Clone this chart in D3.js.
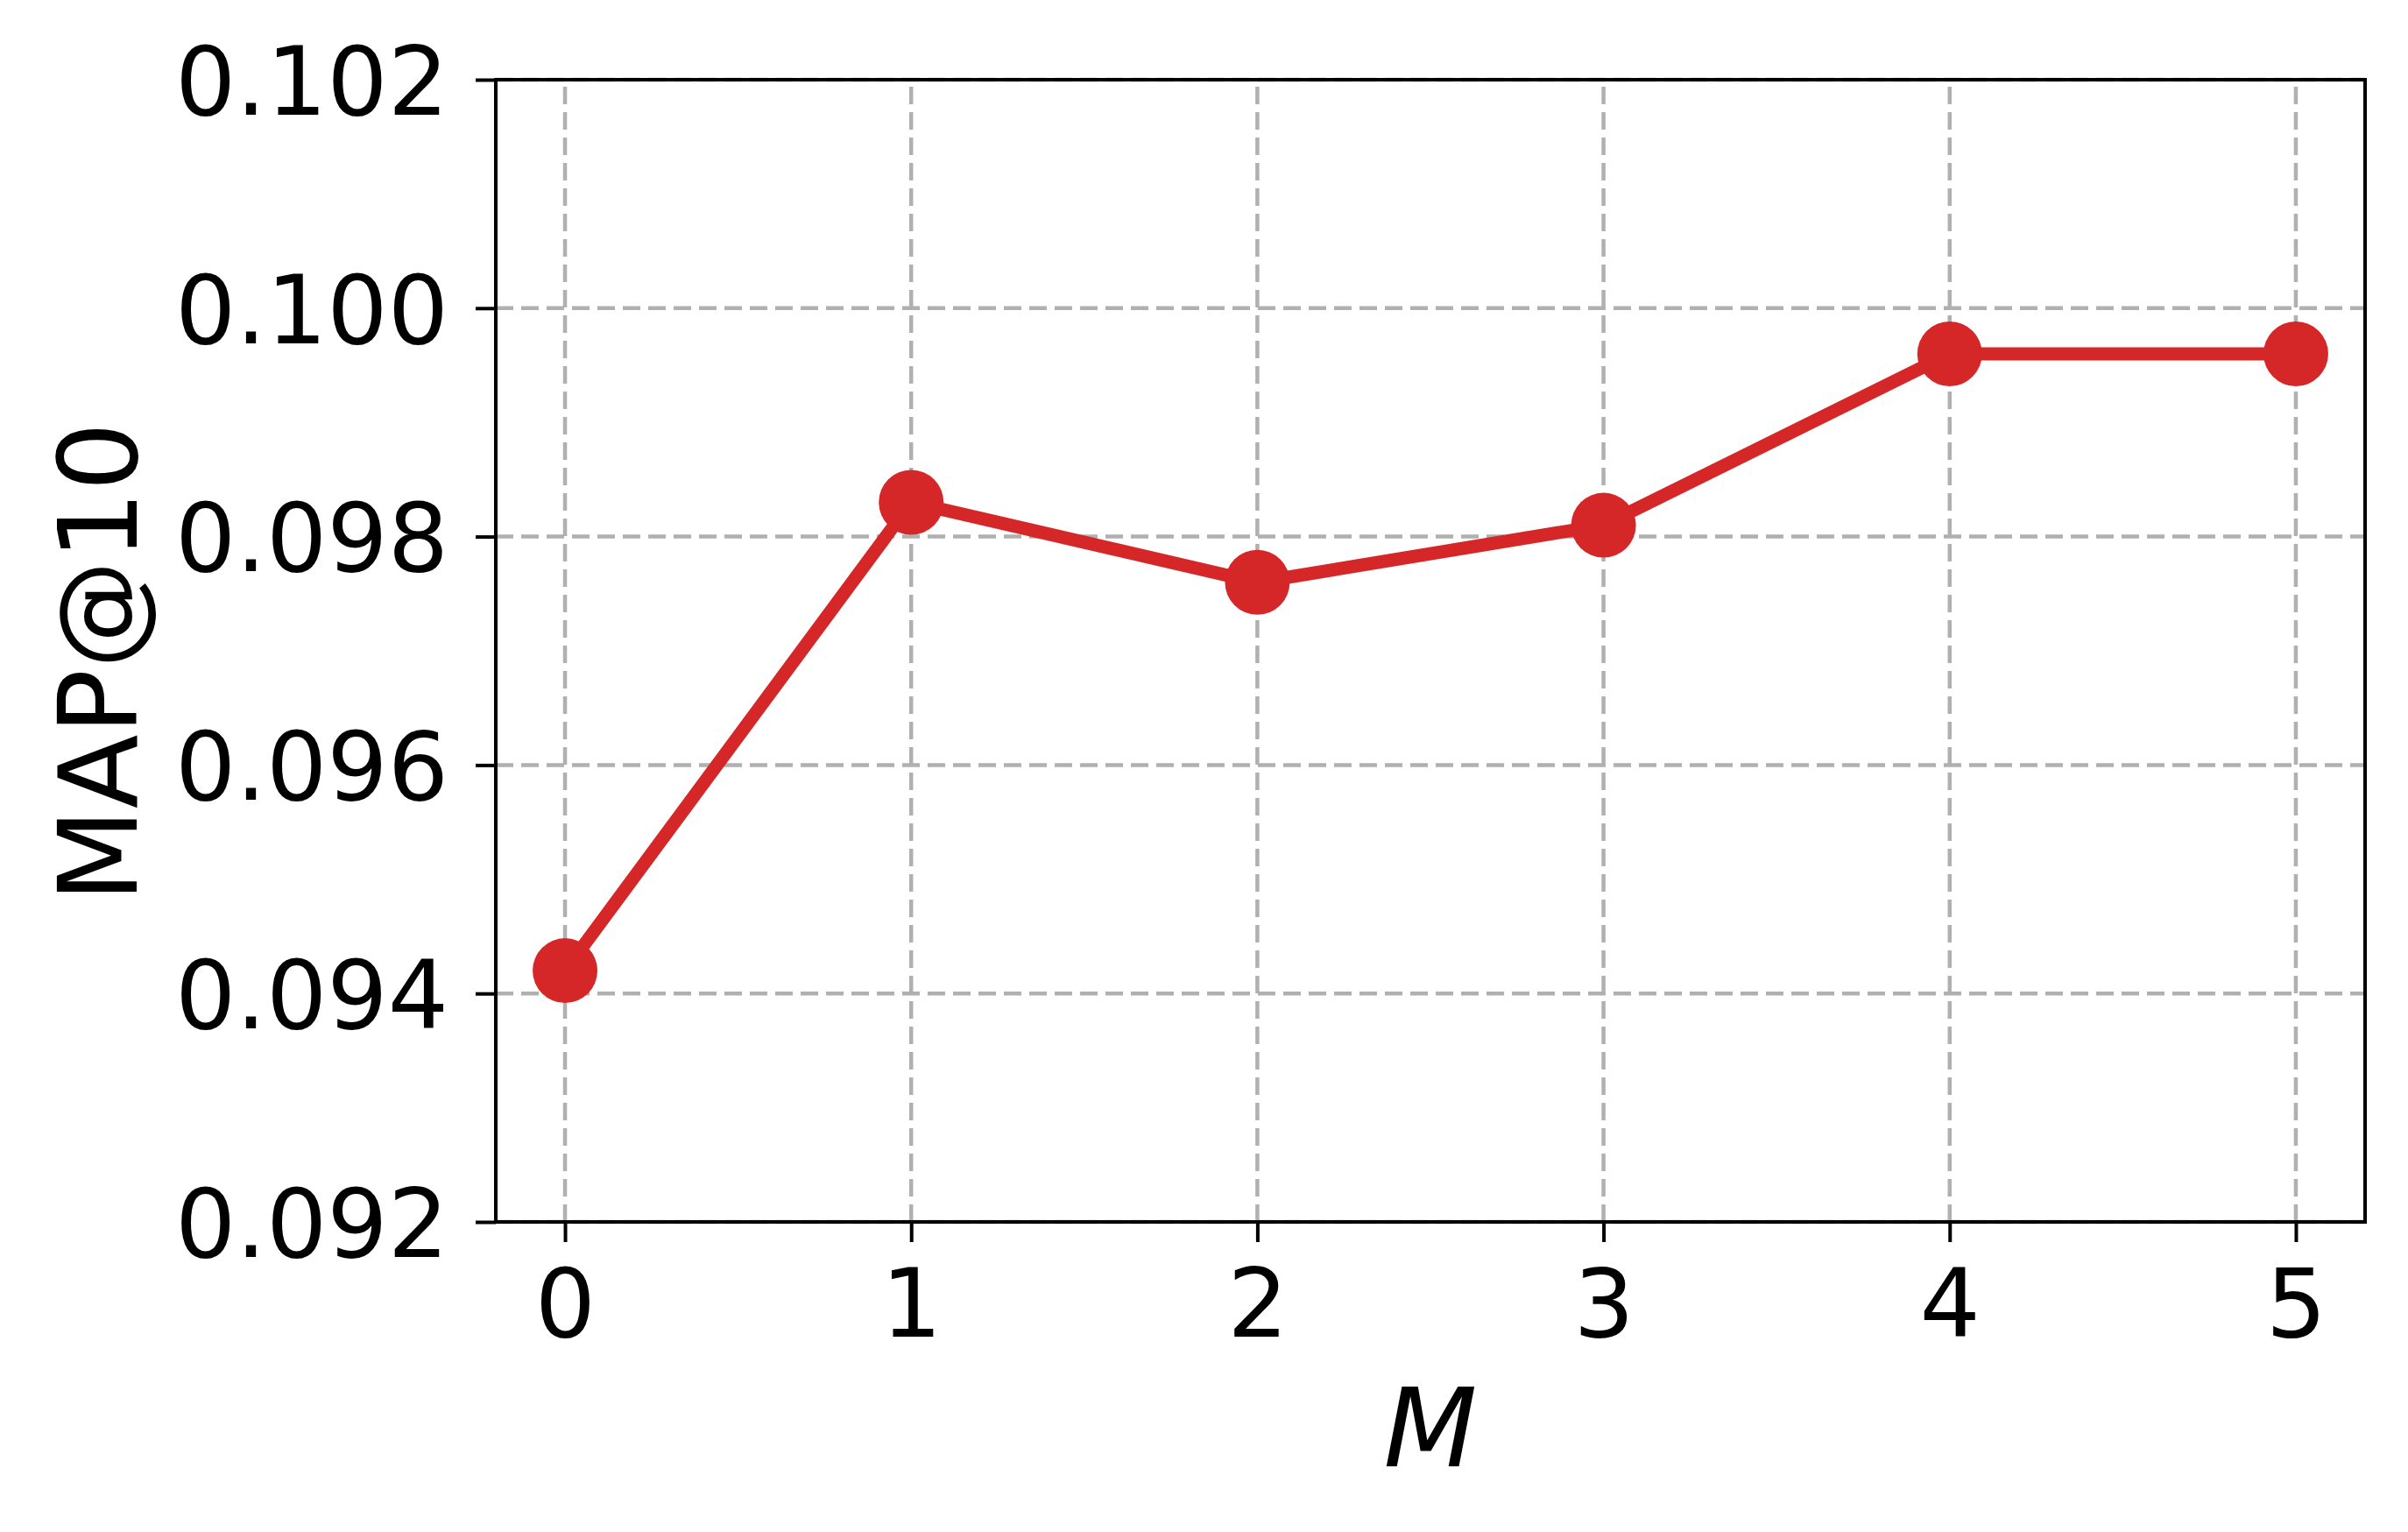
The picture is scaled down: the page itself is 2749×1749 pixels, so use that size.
<!DOCTYPE html>
<html>
<head>
<meta charset="utf-8">
<script src="https://cdn.jsdelivr.net/npm/d3@7"></script>
<style>
  body { margin: 0; background: #fff; }
  svg { display: block; font-family: "DejaVu Sans", sans-serif; }
</style>
</head>
<body>
<svg id="chart" width="2749" height="1749"></svg>
<script>
const mValues = [0, 1, 2, 3, 4, 5];
const mapAt10 = [0.0942, 0.0983, 0.0976, 0.0981, 0.0996, 0.0996];
const yTicks = [0.092, 0.094, 0.096, 0.098, 0.100, 0.102];
const xTicks = [0, 1, 2, 3, 4, 5];

const margin = { left: 566, right: 49, top: 91, bottom: 354 }
const W = 2749, H = 1749
const svg = d3.select('#chart')

const x = d3.scaleLinear().domain([-0.2, 5.2]).range([margin.left, W - margin.right])
const y = d3.scaleLinear().domain([0.092, 0.102]).range([H - margin.bottom, margin.top])

const red = '#d62728'

// grid
const grid = svg.append('g')
grid.selectAll('line.gx').data(xTicks).join('line')
    .attr('x1', d => x(d)).attr('x2', d => x(d))
    .attr('y1', y.range()[0]).attr('y2', y.range()[1])
    .attr('stroke', '#b0b0b0').attr('stroke-width', 4.5)
    .attr('stroke-dasharray', '20,9')
grid.selectAll('line.gy').data(yTicks).join('line')
    .attr('y1', d => y(d)).attr('y2', d => y(d))
    .attr('x1', x.range()[0]).attr('x2', x.range()[1])
    .attr('stroke', '#b0b0b0').attr('stroke-width', 4.5)
    .attr('stroke-dasharray', '20,9')

// axes
const xAxis = svg.append('g')
    .attr('transform', `translate(0,${y.range()[0]})`)
    .call(d3.axisBottom(x).tickValues(xTicks).tickFormat(d3.format('d')).tickSizeInner(23).tickSizeOuter(0).tickPadding(28))
const yAxis = svg.append('g')
    .attr('transform', `translate(${x.range()[0]},0)`)
    .call(d3.axisLeft(y).tickValues(yTicks).tickFormat(d3.format('.3f')).tickSizeInner(23).tickSizeOuter(0).tickPadding(31))

for (const ax of [xAxis, yAxis]) {
    ax.select('.domain').remove()
    ax.selectAll('.tick line').attr('stroke', '#000').attr('stroke-width', 4)
    ax.selectAll('.tick text')
        .attr('fill', '#000')
        .style('font-size', '109px')
        .style('font-family', '"DejaVu Sans", sans-serif')
}
yAxis.selectAll('.tick text').attr('dy', '0.36em')
xAxis.selectAll('.tick text').attr('dy', '0.73em')

// frame
svg.append('rect')
    .attr('x', x.range()[0]).attr('y', y.range()[1])
    .attr('width', x.range()[1] - x.range()[0])
    .attr('height', y.range()[0] - y.range()[1])
    .attr('fill', 'none').attr('stroke', '#000').attr('stroke-width', 4)

// line + markers
const line = d3.line().x((d, i) => x(mValues[i])).y(d => y(d))
svg.append('path')
    .datum(mapAt10)
    .attr('d', line)
    .attr('fill', 'none')
    .attr('stroke', red)
    .attr('stroke-width', 15)

svg.selectAll('circle.pt').data(mapAt10).join('circle')
    .attr('cx', (d, i) => x(mValues[i]))
    .attr('cy', d => y(d))
    .attr('r', 37)
    .attr('fill', red)

// labels
svg.append('text')
    .attr('x', (x.range()[0] + x.range()[1]) / 2)
    .attr('y', 1674)
    .attr('text-anchor', 'middle')
    .style('font-size', '124px')
    .style('font-style', 'italic')
    .text('M')

svg.append('text')
    .attr('transform', `translate(156,${(y.range()[0] + y.range()[1]) / 2 + 13}) rotate(-90)`)
    .attr('text-anchor', 'middle')
    .style('font-size', '124px')
    .text('MAP@10')
</script>
</body>
</html>
